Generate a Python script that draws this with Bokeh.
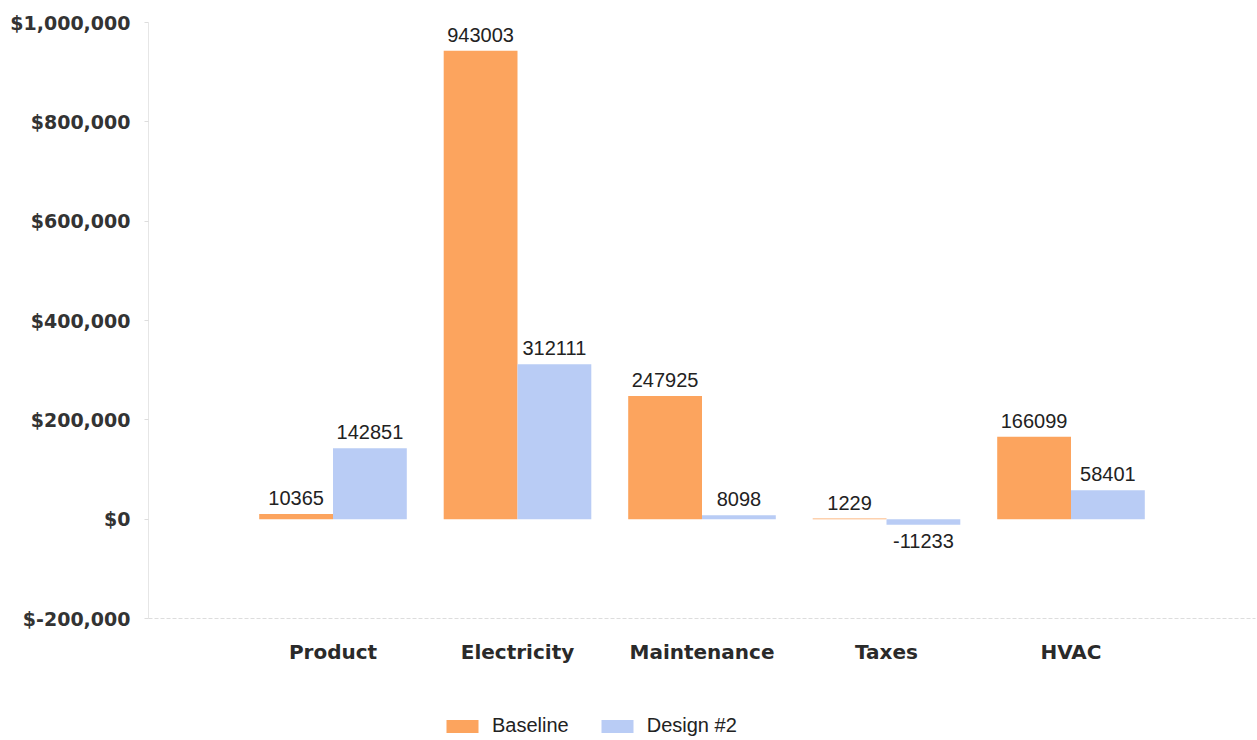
from bokeh.plotting import figure
from bokeh.models import ColumnDataSource, FactorRange, FixedTicker, Legend, LegendItem, LabelSet
from bokeh.layouts import column
from bokeh.core.properties import value
from bokeh.transform import dodge
from bokeh.embed import file_html
from bokeh.resources import INLINE

categories = ["Product", "Electricity", "Maintenance", "Taxes", "HVAC"]
baseline = [10365, 943003, 247925, 1229, 166099]
design2 = [142851, 312111, 8098, -11233, 58401]
y_ticks = [-200000, 0, 200000, 400000, 600000, 800000, 1000000]
y_tick_labels = ["$-200,000", "$0", "$200,000", "$400,000", "$600,000", "$800,000", "$1,000,000"]
series_names = ["Baseline", "Design #2"]

ORANGE = "#FCA45E"
BLUE = "#B9CCF5"
FONT = "Liberation Sans"
AXFONT = "DejaVu Sans"

src = ColumnDataSource(dict(
    cat=categories,
    base=baseline,
    des=design2,
    base_lbl=[str(v) for v in baseline],
))

p = figure(x_range=FactorRange(*categories, range_padding=0.2), y_range=(-200000, 1000000),
           width=1257, height=668, output_backend="svg", toolbar_location=None,
           min_border_left=148, min_border_right=2, min_border_top=22, min_border_bottom=50)

p.vbar(x=dodge("cat", -0.2, range=p.x_range), top="base", width=0.4, source=src,
       fill_color=ORANGE, line_color=None)
p.vbar(x=dodge("cat", 0.2, range=p.x_range), top="des", width=0.4, source=src,
       fill_color=BLUE, line_color=None)

LBL = dict(text_align="center", text_font_size="20px", text_color="#222222", text_font=value(FONT))
p.add_layout(LabelSet(x=dodge("cat", -0.2, range=p.x_range), y="base", text="base_lbl", source=src,
                      text_baseline="bottom", y_offset=9, **LBL))

pos_src = ColumnDataSource(dict(
    cat=[c for c, v in zip(categories, design2) if v >= 0],
    v=[v for v in design2 if v >= 0],
    t=[str(v) for v in design2 if v >= 0],
))
neg_src = ColumnDataSource(dict(
    cat=[c for c, v in zip(categories, design2) if v < 0],
    v=[v for v in design2 if v < 0],
    t=[str(v) for v in design2 if v < 0],
))
p.add_layout(LabelSet(x=dodge("cat", 0.2, range=p.x_range), y="v", text="t", source=pos_src,
                      text_baseline="bottom", y_offset=9, **LBL))
p.add_layout(LabelSet(x=dodge("cat", 0.2, range=p.x_range), y="v", text="t", source=neg_src,
                      text_baseline="top", y_offset=-9, **LBL))

p.yaxis.ticker = FixedTicker(ticks=y_ticks)
p.yaxis.major_label_overrides = {t: l for t, l in zip(y_ticks, y_tick_labels)}
p.yaxis.major_label_text_font = AXFONT
p.yaxis.major_label_text_font_style = "bold"
p.yaxis.major_label_text_font_size = "19px"
p.yaxis.major_label_text_color = "#333333"
p.yaxis.axis_line_color = "#E6E6E6"
p.yaxis.major_tick_line_color = "#DDDDDD"
p.yaxis.major_tick_out = 4
p.yaxis.major_tick_in = 0
p.yaxis.minor_tick_line_color = None
p.yaxis.major_label_standoff = 14

p.xaxis.axis_line_color = "#DDDDDD"
p.xaxis.axis_line_dash = "4 2"
p.xaxis.major_tick_line_color = None
p.xaxis.minor_tick_line_color = None
p.xaxis.major_label_text_font = AXFONT
p.xaxis.major_label_text_font_style = "bold"
p.xaxis.major_label_text_font_size = "20px"
p.xaxis.major_label_text_color = "#2a2a2a"
p.xaxis.major_label_standoff = 15

p.xgrid.grid_line_color = None
p.ygrid.grid_line_color = None
p.outline_line_color = None

# legend strip below the chart
lg = figure(width=1257, height=72, output_backend="svg", toolbar_location=None,
            x_axis_type=None, y_axis_type=None, x_range=(0, 1), y_range=(0, 1),
            min_border=0)
lg.outline_line_color = None
lg.xgrid.grid_line_color = None
lg.ygrid.grid_line_color = None
hidden = ColumnDataSource(dict(x=[-5], top=[-5]))
ra = lg.vbar(x="x", top="top", bottom=-6, width=0.1, source=hidden, fill_color=ORANGE, line_color=None)
rb = lg.vbar(x="x", top="top", bottom=-6, width=0.1, source=hidden, fill_color=BLUE, line_color=None)
legend = Legend(items=[LegendItem(label=series_names[0], renderers=[ra]),
                       LegendItem(label=series_names[1], renderers=[rb])],
                orientation="horizontal", location=(294, 3),
                label_text_font=FONT, label_text_font_size="20px",
                label_text_color="#222222", glyph_width=40, glyph_height=16,
                label_standoff=10, spacing=28, border_line_color=None,
                background_fill_alpha=0, margin=0, padding=4)
lg.add_layout(legend, "center")

layout = column(p, lg, spacing=0)
open("out.html", "w").write(file_html(layout, INLINE))
